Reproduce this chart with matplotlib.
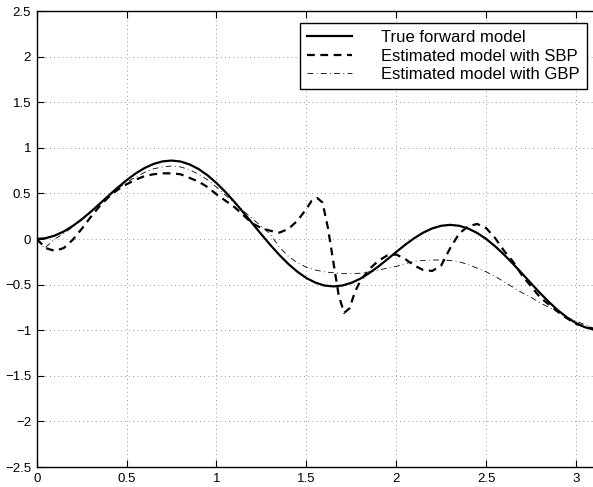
import numpy as np
import matplotlib
matplotlib.use("Agg")
import matplotlib.pyplot as plt

plt.rcParams['font.family'] = ['Liberation Sans', 'DejaVu Sans']

# true forward model
x_true = [0, 0.05, 0.1, 0.15, 0.2, 0.25, 0.3, 0.35, 0.4, 0.45, 0.5, 0.55, 0.6, 0.65, 0.7, 0.75,
          0.8, 0.85, 0.9, 0.95, 1.0, 1.05, 1.1, 1.15, 1.2, 1.25, 1.3, 1.35, 1.4, 1.45, 1.5, 1.55,
          1.6, 1.65, 1.7, 1.75, 1.8, 1.85, 1.9, 1.95, 2.0, 2.05, 2.1, 2.15, 2.2, 2.25, 2.3, 2.35,
          2.4, 2.45, 2.5, 2.55, 2.6, 2.65, 2.7, 2.75, 2.8, 2.85, 2.9, 2.95, 3.0, 3.05, 3.1, 3.15]
y_true = [0, 0.009, 0.037, 0.082, 0.142, 0.215, 0.297, 0.385, 0.475, 0.563, 0.645, 0.718, 0.778,
          0.823, 0.851, 0.86, 0.85, 0.818, 0.768, 0.699, 0.614, 0.515, 0.406, 0.29, 0.17, 0.05,
          -0.066, -0.175, -0.274, -0.359, -0.428, -0.478, -0.51, -0.52, -0.51, -0.481, -0.435,
          -0.374, -0.302, -0.223, -0.142, -0.063, 0.009, 0.07, 0.116, 0.145, 0.155, 0.145, 0.115,
          0.066, 0.001, -0.08, -0.172, -0.273, -0.379, -0.487, -0.593, -0.692, -0.783, -0.86,
          -0.923, -0.968, -0.994, -1.0]

# estimated model with SBP
x_sbp = [0, 0.05, 0.1, 0.15, 0.2, 0.25, 0.3, 0.35, 0.4, 0.45, 0.5, 0.55, 0.6, 0.65, 0.7, 0.75,
         0.8, 0.85, 0.9, 0.95, 1.0, 1.05, 1.1, 1.15, 1.2, 1.25, 1.3, 1.35, 1.4, 1.45, 1.5, 1.53,
         1.56, 1.59, 1.62, 1.65, 1.68, 1.71, 1.74, 1.77, 1.8, 1.85, 1.9, 1.95, 2.0, 2.05, 2.1,
         2.15, 2.2, 2.25, 2.3, 2.35, 2.4, 2.45, 2.5, 2.55, 2.6, 2.65, 2.7, 2.75, 2.8, 2.85, 2.9,
         2.95, 3.0, 3.05, 3.1, 3.15]
y_sbp = [0, -0.1, -0.13, -0.1, -0.01, 0.11, 0.24, 0.36, 0.46, 0.54, 0.6, 0.65, 0.69, 0.71, 0.72,
         0.72, 0.71, 0.67, 0.63, 0.57, 0.49, 0.42, 0.35, 0.26, 0.17, 0.12, 0.09, 0.07, 0.11, 0.2,
         0.33, 0.42, 0.45, 0.4, 0.12, -0.25, -0.62, -0.81, -0.76, -0.58, -0.46, -0.33, -0.24,
         -0.18, -0.17, -0.22, -0.29, -0.34, -0.35, -0.29, -0.1, 0.06, 0.14, 0.165, 0.12, 0.01,
         -0.13, -0.25, -0.4, -0.52, -0.64, -0.72, -0.8, -0.87, -0.93, -0.96, -0.99, -1.01]

# estimated model with GBP
x_gbp = [0, 0.045, 0.1, 0.15, 0.2, 0.25, 0.3, 0.35, 0.4, 0.45, 0.5, 0.55, 0.6, 0.65, 0.7, 0.75,
         0.8, 0.85, 0.9, 0.95, 1.0, 1.05, 1.1, 1.15, 1.2, 1.25, 1.3, 1.35, 1.4, 1.45, 1.5, 1.55,
         1.6, 1.65, 1.7, 1.75, 1.8, 1.85, 1.9, 1.95, 2.0, 2.05, 2.1, 2.15, 2.2, 2.25, 2.3, 2.35,
         2.4, 2.45, 2.5, 2.55, 2.6, 2.65, 2.7, 2.75, 2.8, 2.85, 2.9, 2.95, 3.0, 3.05, 3.1, 3.15]
y_gbp = [0, -0.1, 0.0, 0.06, 0.13, 0.21, 0.3, 0.39, 0.47, 0.55, 0.62, 0.68, 0.73, 0.77, 0.79,
         0.8, 0.79, 0.76, 0.71, 0.65, 0.57, 0.48, 0.4, 0.31, 0.22, 0.14, 0.05, -0.09, -0.19,
         -0.26, -0.31, -0.34, -0.36, -0.37, -0.38, -0.38, -0.375, -0.36, -0.34, -0.32, -0.3,
         -0.27, -0.245, -0.235, -0.23, -0.23, -0.235, -0.25, -0.28, -0.32, -0.36, -0.41, -0.47,
         -0.53, -0.59, -0.64, -0.7, -0.75, -0.8, -0.86, -0.9, -0.94, -0.98, -1.0]

xticks = [0, 0.5, 1, 1.5, 2, 2.5, 3]
xlabels = ['0', '0.5', '1', '1.5', '2', '2.5', '3']
yticks = [-2.5, -2, -1.5, -1, -0.5, 0, 0.5, 1, 1.5, 2, 2.5]
ylabels = ['\u22122.5', '\u22122', '\u22121.5', '\u22121', '\u22120.5', '0', '0.5', '1', '1.5', '2', '2.5']

W, H = 593, 487
fig = plt.figure(figsize=(W / 100, H / 100), dpi=100)
ax = fig.add_axes([36.7 / W, 20 / H, (601.5 - 36.7) / W, 456 / H])

ax.plot(x_true, y_true, color='black', linewidth=1.6, label='True forward model')
ax.plot(x_sbp, y_sbp, color='black', linewidth=1.6, dashes=(3.5, 2.5), label='Estimated model with SBP')
ax.plot(x_gbp, y_gbp, color='black', linewidth=0.6, dashes=(7, 4, 1, 4), label='Estimated model with GBP')

ax.set_xlim(0, np.pi)
ax.set_ylim(-2.5, 2.5)
ax.set_xticks(xticks)
ax.set_xticklabels(xlabels)
ax.set_yticks(yticks)
ax.set_yticklabels(ylabels)
ax.tick_params(direction='in', length=5, width=0.8, top=True, right=True, labelsize=9.5, pad=4)
ax.grid(True, color='#777777', linestyle=(0, (1, 4)), linewidth=0.6)
for s in ax.spines.values():
    s.set_linewidth(1.0)

leg = ax.legend(loc='upper right', bbox_to_anchor=(586.7 / W, 1 - 22.7 / H), bbox_transform=fig.transFigure,
                borderaxespad=0, fontsize=12, fancybox=False, framealpha=1, edgecolor='black',
                handlelength=2.7, handletextpad=1.7, labelspacing=0.2, borderpad=0.45)
leg.get_frame().set_linewidth(1.0)

fig.savefig('out.png', dpi=100)
